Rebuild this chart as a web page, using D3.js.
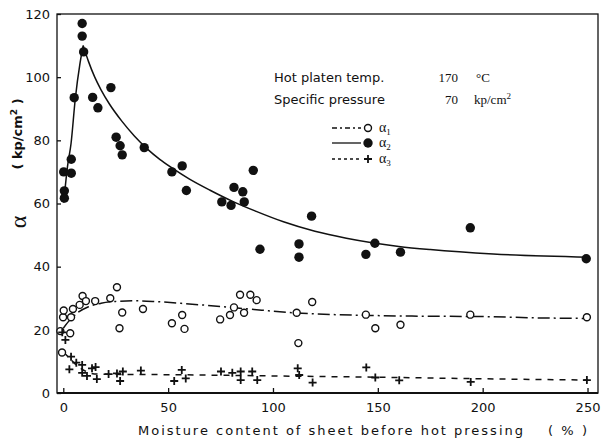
<!DOCTYPE html>
<html>
<head>
<meta charset="utf-8">
<script src="https://cdn.jsdelivr.net/npm/d3@7"></script>
<style>
  body { margin: 0; background: #fff; }
  svg { display: block; font-family: "DejaVu Sans", sans-serif; }
</style>
</head>
<body>
<svg id="chart"></svg>
<script>
// moisture content (%) , alpha (kp/cm2)
const alpha1Points = [
  [-0.6, 12.8], [-1.4, 19.6], [3.3, 18.9], [-0.1, 24], [0.2, 26.1], [3.7, 24],
  [4.6, 26.6], [7.8, 27.9], [9.2, 30.7], [10.8, 29.1], [15.2, 29.1], [22.4, 30],
  [25.6, 33.5], [26.8, 20.5], [28.1, 25.5], [38, 26.6], [51.8, 22.1], [56.7, 24.7],
  [57.8, 20.3], [74.8, 23.3], [79.5, 24.7], [81.4, 27.1], [84.3, 31.1], [86.2, 25.4],
  [89.2, 31.1], [92.2, 29.4], [111.3, 25.4], [112.1, 15.8], [118.7, 28.8], [144.3, 24.8],
  [148.8, 20.5], [160.8, 21.6], [194.1, 24.8], [249.7, 24]
];
const alpha2Points = [
  [0.2, 70], [0.5, 64], [0.5, 61.7], [3.8, 74], [3.8, 69.6], [5.2, 93.5],
  [9, 117], [9, 113], [9.7, 108], [14, 93.6], [16.5, 90.3], [22.7, 96.7],
  [25.2, 81], [27.1, 78.3], [28.1, 75.4], [38.6, 77.7], [51.8, 70], [56.7, 71.9],
  [58.7, 64.1], [75.6, 60.5], [80, 59.4], [81.4, 65.1], [85.6, 63.7], [86.3, 60.5],
  [90.6, 70.5], [93.8, 45.5], [112.4, 47.2], [112.4, 43], [118.4, 56], [144.3, 43.9],
  [148.6, 47.4], [160.8, 44.6], [194.1, 52.3], [249.4, 42.5]
];
const alpha3Points = [
  [-0.5, 19.2], [1, 16.8], [2.9, 7.5], [3.7, 11.5], [6.2, 9.6], [9, 8.9],
  [9, 6.4], [11.3, 5.4], [13.7, 7.8], [15.4, 8.2], [16, 4.4], [21.6, 6],
  [25.6, 6.2], [27.1, 3.8], [28.4, 6.8], [37, 7.1], [52.9, 3.8], [56.5, 7.3],
  [58.4, 4.6], [75.2, 6.8], [80.6, 6.4], [84.6, 6.8], [84.6, 4.1], [90.1, 6.8],
  [92.5, 4.1], [111.8, 7.8], [112.5, 5.7], [118.9, 3.3], [144.5, 8.1], [148.8, 4.9],
  [160.2, 4], [194.3, 3.5], [249.7, 4.1]
];

// fitted curves as drawn in the figure
const alpha1Curve = [
  [0, 20.5], [3, 23], [7, 25.5], [12, 27.3], [18, 28.4], [25, 29], [35, 29.2],
  [45, 28.9], [60, 28.2], [75, 27.4], [90, 26.5], [110, 25.4], [130, 24.8],
  [150, 24.5], [175, 24.3], [200, 24.2], [225, 23.8], [250, 23.6]
];
const alpha2Rise = [
  [0.2, 60.3], [2, 71.7], [3.7, 79], [5.7, 93], [8, 104.5], [9.5, 110]
];
const alpha2Fall = [
  [9.5, 110], [12, 105], [15, 100], [18, 96], [22, 91.5], [28, 86], [34, 81.3],
  [40, 77.3], [46, 74], [52, 71.2], [60, 67.8], [70, 64.2], [81, 60.6], [92, 57.5],
  [105, 54.2], [120, 51.2], [135, 49], [148, 47.5], [160, 46.4], [175, 45.4],
  [205, 44], [251, 43]
];
const alpha3Curve = [
  [0, 13], [3, 11], [6, 9], [9, 7.5], [12, 6.5], [16, 6], [25, 5.9], [50, 5.8],
  [100, 5.4], [150, 5], [200, 4.5], [250, 4.1]
];

const xTicks = [0, 50, 100, 150, 200, 250];
const yTicks = [0, 20, 40, 60, 80, 100, 120];

const width = 607;
const height = 442;

const svg = d3.select("#chart").attr("width", width).attr("height", height);

const xScale = d3.scaleLinear().domain([-3, 255]).range([57, 598]);
const yScale = d3.scaleLinear().domain([0, 120]).range([393, 14]);

// frame
svg.append("rect")
  .attr("x", 57).attr("y", 14)
  .attr("width", 541).attr("height", 379)
  .attr("fill", "none")
  .attr("stroke", "#111")
  .attr("stroke-width", 1.3);
svg.append("line")
  .attr("x1", 57).attr("x2", 598).attr("y1", 393).attr("y2", 393)
  .attr("stroke", "#111").attr("stroke-width", 2.2);

//   x - axis
const xAxis = svg.append("g")
  .attr("transform", "translate(0,393)")
  .call(d3.axisBottom(xScale).tickValues(xTicks).tickSizeInner(-5).tickSizeOuter(0).tickPadding(10));
xAxis.select(".domain").remove();
xAxis.selectAll("text").attr("font-size", 13).attr("fill", "#111").attr("font-family", "DejaVu Sans");
xAxis.selectAll("line").attr("stroke", "#111").attr("stroke-width", 1.3);

//   y - axis
const yAxis = svg.append("g")
  .attr("transform", "translate(57,0)")
  .call(d3.axisLeft(yScale).tickValues(yTicks).tickSizeInner(-4).tickSizeOuter(0).tickPadding(7));
yAxis.select(".domain").remove();
yAxis.selectAll("text").attr("font-size", 13).attr("fill", "#111").attr("font-family", "DejaVu Sans");
yAxis.selectAll("line").attr("stroke", "#111").attr("stroke-width", 1.3);

// curves
const line = d3.line()
  .x(function (d) { return xScale(d[0]); })
  .y(function (d) { return yScale(d[1]); })
  .curve(d3.curveMonotoneX);

const curves = [
  { pts: alpha1Curve, dash: "12,4,2,4" },
  { pts: alpha2Rise, dash: null },
  { pts: alpha2Fall, dash: null },
  { pts: alpha3Curve, dash: "6,6" }
];
svg.selectAll(".curve")
  .data(curves)
  .enter()
  .append("path")
  .attr("class", "curve")
  .attr("d", function (d) { return line(d.pts); })
  .attr("fill", "none")
  .attr("stroke", "#111")
  .attr("stroke-width", 1.5)
  .attr("stroke-dasharray", function (d) { return d.dash; });

// markers
function drawOpen(g, px, py) {
  g.append("circle").attr("cx", px).attr("cy", py).attr("r", 3.5)
    .attr("fill", "#fff").attr("stroke", "#111").attr("stroke-width", 1.4);
}
function drawFilled(g, px, py) {
  g.append("circle").attr("cx", px).attr("cy", py).attr("r", 4.7).attr("fill", "#111");
}
function drawCross(g, px, py) {
  g.append("path")
    .attr("d", "M" + (px - 4) + "," + py + "H" + (px + 4) + "M" + px + "," + (py - 4) + "V" + (py + 4))
    .attr("stroke", "#111").attr("stroke-width", 1.8);
}

const marks = svg.append("g");
alpha1Points.forEach(function (d) { drawOpen(marks, xScale(d[0]), yScale(d[1])); });
alpha2Points.forEach(function (d) { drawFilled(marks, xScale(d[0]), yScale(d[1])); });
alpha3Points.forEach(function (d) { drawCross(marks, xScale(d[0]), yScale(d[1])); });

// conditions text
const info = svg.append("g").attr("font-size", 13).attr("fill", "#111");
info.append("text").attr("x", 274).attr("y", 82).text("Hot platen temp.");
info.append("text").attr("x", 274).attr("y", 104).text("Specific pressure");
info.append("text").attr("x", 458).attr("y", 82).attr("text-anchor", "end")
  .attr("font-family", "Liberation Serif").text("170");
info.append("text").attr("x", 476).attr("y", 82)
  .attr("font-family", "Liberation Serif").text("°C");
info.append("text").attr("x", 458).attr("y", 104).attr("text-anchor", "end")
  .attr("font-family", "Liberation Serif").text("70");
info.append("text").attr("x", 474).attr("y", 104)
  .attr("font-family", "Liberation Serif").html("kp/cm<tspan font-size='9' dy='-5'>2</tspan>");

// legend
const legendRows = [
  { y: 128, dash: "5,3,2,3", mark: drawOpen, sub: "1" },
  { y: 143, dash: null, mark: drawFilled, sub: "2" },
  { y: 159, dash: "3,3", mark: drawCross, sub: "3" }
];
legendRows.forEach(function (r) {
  svg.append("line")
    .attr("x1", 332).attr("x2", 361).attr("y1", r.y).attr("y2", r.y)
    .attr("stroke", "#111").attr("stroke-width", 1.3)
    .attr("stroke-dasharray", r.dash);
  r.mark(svg, 368, r.y);
  const t = svg.append("text").attr("x", 379).attr("y", r.y + 4)
    .attr("font-size", 14).attr("fill", "#111").attr("font-family", "Liberation Serif");
  t.append("tspan").text("α");
  t.append("tspan").attr("font-size", 9).attr("dy", 3).text(r.sub);
});

// axis titles
svg.append("text")
  .attr("x", 138).attr("y", 435)
  .attr("font-size", 13).attr("fill", "#111")
  .attr("textLength", 385).attr("lengthAdjust", "spacing")
  .text("Moisture content of sheet before hot pressing");
svg.append("text")
  .attr("x", 548).attr("y", 435)
  .attr("font-size", 13).attr("fill", "#111")
  .attr("textLength", 39).attr("lengthAdjust", "spacing")
  .text("( % )");

svg.append("text")
  .attr("transform", "translate(26,222) rotate(-90)")
  .attr("text-anchor", "middle")
  .attr("font-size", 24).attr("fill", "#111").attr("font-family", "Liberation Serif")
  .text("α");
svg.append("text")
  .attr("transform", "translate(22,134) rotate(-90)")
  .attr("text-anchor", "middle")
  .attr("font-size", 13).attr("font-weight", "bold").attr("fill", "#111")
  .html("( kp/cm<tspan font-size='9' dy='-5'>2</tspan><tspan dy='5'> )</tspan>");
</script>
</body>
</html>
